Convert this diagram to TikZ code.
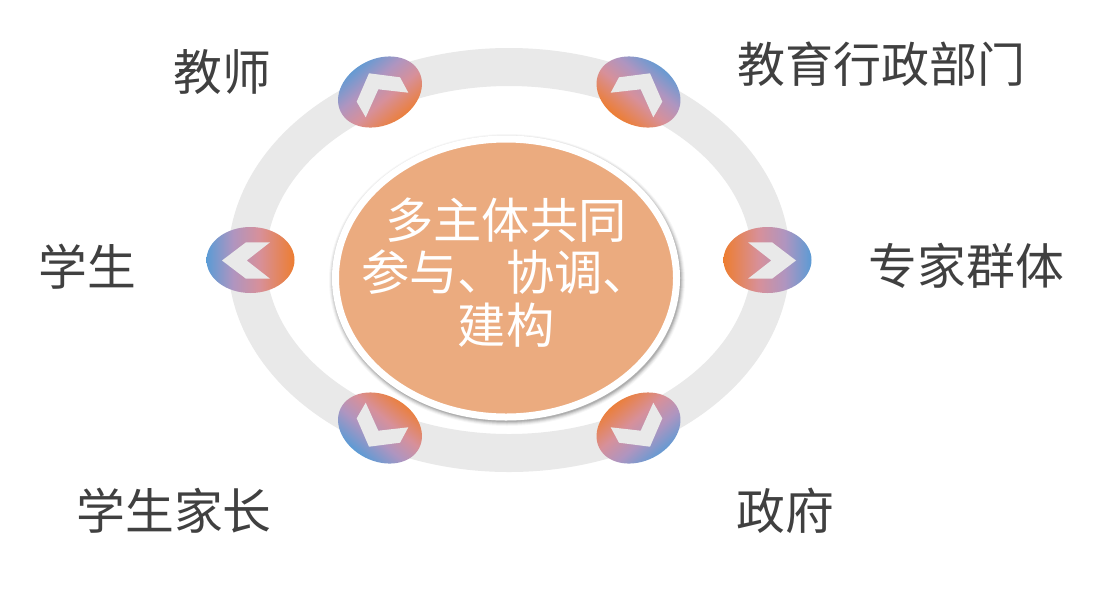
\documentclass[tikz,border=0pt]{standalone}
\usepackage{fontspec}
\setmainfont{Noto Sans CJK SC}
\usetikzlibrary{shapes.geometric}
\definecolor{ringgray}{HTML}{E9E9E9}
\definecolor{centerfill}{HTML}{EBAB7F}
\definecolor{labelgray}{HTML}{404040}
\definecolor{badgeblue}{HTML}{5B9BD5}
\definecolor{badgelav}{HTML}{AF95C0}
\definecolor{badgepink}{HTML}{D7909A}
\definecolor{badgeorange}{HTML}{ED7D31}
\pgfdeclarehorizontalshading{badgeA}{100bp}{
  color(0bp)=(badgeblue); color(25bp)=(badgeblue); color(40bp)=(badgelav); color(55bp)=(badgepink); color(75bp)=(badgeorange); color(100bp)=(badgeorange)}
\pgfdeclarehorizontalshading{badgeB}{100bp}{
  color(0bp)=(badgeblue); color(29bp)=(badgeblue); color(43bp)=(badgelav); color(55bp)=(badgepink); color(71bp)=(badgeorange); color(100bp)=(badgeorange)}
\tikzset{
  badge/.style={ellipse,inner sep=0pt,outer sep=0pt,minimum width=66pt,minimum height=49.5pt},
  chevron/.style={fill=ringgray,draw=none},
  lbl/.style={text=labelgray,font=\fontsize{36.6pt}{40pt}\selectfont,inner sep=0pt},
  lblwide/.style={text=labelgray,font=\fontsize{36pt}{40pt}\selectfont,inner sep=0pt},
  ringshape/.style={ellipse,draw=ringgray,line width=28.5pt,inner sep=0pt,outer sep=0pt,minimum width=393pt,minimum height=289.5pt},
  hub/.style={ellipse,fill=centerfill,draw=white,line width=5.25pt,inner sep=0pt,outer sep=0pt,minimum width=255.75pt,minimum height=208.5pt},
  hubtext/.style={text=white,align=center,inner sep=0pt,font=\fontsize{36.2pt}{39.4pt}\selectfont},
}
\begin{document}
\begin{tikzpicture}[x=0.75pt,y=-0.75pt]
\useasboundingbox (0,0) rectangle (1112,590);
\fill[white] (0,0) rectangle (1112,590);
\node[ringshape] (ring) at (509,260) {};
% badges
\node[badge,shade,shading=badgeA,shading angle=0]    (bl) at (250.5,260) {};
\node[badge,shade,shading=badgeA,shading angle=180]  (br) at (767.5,260) {};
\node[badge,rotate=27,shade,shading=badgeB,shading angle=-50]  (btl) at (380,92) {};
\node[badge,rotate=-27,shade,shading=badgeB,shading angle=230] (btr) at (638.5,92) {};
\node[badge,rotate=-27,shade,shading=badgeB,shading angle=50]  (bbl) at (380,428) {};
\node[badge,rotate=27,shade,shading=badgeB,shading angle=130]  (bbr) at (638.5,428) {};
% chevrons
\fill[chevron] (270,242.3) -- (246.7,260.5) -- (270,278.7) -- (246,278.7) -- (222,260.5) -- (246,242.3) -- cycle;
\fill[chevron] (748,242.3) -- (771.3,260.5) -- (748,278.7) -- (772,278.7) -- (796,260.5) -- (772,242.3) -- cycle;
\fill[chevron] (369,73.3) -- (400,77.3) -- (408.3,92.7) -- (378.3,89.3) -- (365.7,117.3) -- (356.7,101.7) -- cycle;
\fill[chevron] (650,73.3) -- (619,77.3) -- (610.7,92.7) -- (640.7,89.3) -- (653.3,117.3) -- (662.3,101.7) -- cycle;
\fill[chevron] (369,446.7) -- (400,442.7) -- (408.3,427.3) -- (378.3,430.7) -- (365.7,402.7) -- (356.7,418.3) -- cycle;
\fill[chevron] (650,446.7) -- (619,442.7) -- (610.7,427.3) -- (640.7,430.7) -- (653.3,402.7) -- (662.3,418.3) -- cycle;
% hub shadow
\foreach \d/\o in {4/0.03,3/0.05,2/0.07,1/0.09,0/0.11}{
  \fill[black,opacity=\o] (507,280) ellipse ({174+\d} and {142+\d});
}
\node[hub] (hub) at (506,278) {};
\node[hubtext] (hubtext) at (506,272.5) {多主体共同\\参与、协调、\\建构};
% labels
\node[lbl] (teacher) at (222,72) {教师};
\node[lblwide] (admin) at (881.5,64) {教育行政部门};
\node[lbl] (student) at (87,267) {学生};
\node[lbl] (expert) at (966.5,266) {专家群体};
\node[lbl] (parent) at (174,511) {学生家长};
\node[lbl] (gov) at (785.5,511) {政府};
\end{tikzpicture}
\end{document}
